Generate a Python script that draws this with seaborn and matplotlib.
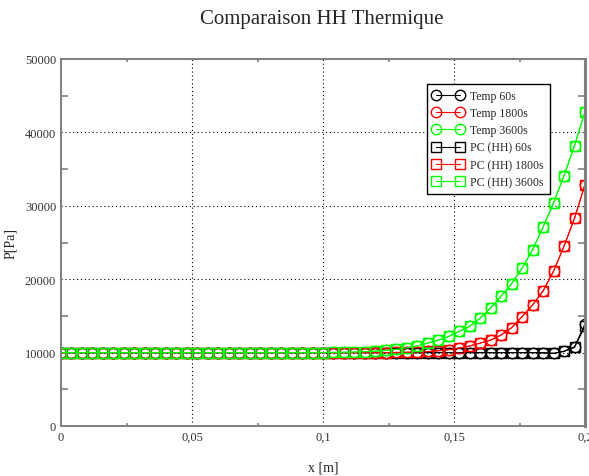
import numpy as np
import pandas as pd
import matplotlib
matplotlib.use("Agg")
import matplotlib.pyplot as plt
import seaborn as sns
from matplotlib.ticker import MultipleLocator, FixedLocator, FixedFormatter

# 51 points de x = 0 a 0.2 m (pas 0.004)
x = np.round(np.arange(51) * 0.004, 3)

# valeurs (la fin de chaque courbe, le reste vaut 10000)
tail_60 = [9950, 9900, 10200, 10800, 13900]                      # i = 46..50
tail_60_pc = [10000, 9900, 10150, 10700, 13600]
tail_1800 = [10010, 10020, 10040, 10080, 10150, 10250, 10400, 10600, 10900,
             11300, 11700, 12400, 13400, 14900, 16500, 18400, 21100, 24500,
             28300, 32900]                                          # i = 31..50
tail_3600 = [10010, 10020, 10040, 10070, 10120, 10200, 10300, 10450, 10650,
             10900, 11300, 11700, 12200, 12900, 13600, 14700, 16100, 17700,
             19400, 21500, 24000, 27100, 30400, 34100, 38200, 42800]  # i = 25..50

def full(tail):
    return [10000] * (51 - len(tail)) + list(tail)

temp_60 = full(tail_60)
temp_1800 = full(tail_1800)
temp_3600 = full(tail_3600)
pc_60 = full(tail_60_pc)
pc_1800 = full(tail_1800)
pc_3600 = full(tail_3600)

series = [
    ("Temp 60s", temp_60, "black", "o"),
    ("Temp 1800s", temp_1800, "red", "o"),
    ("Temp 3600s", temp_3600, "#00ff00", "o"),
    ("PC (HH) 60s", pc_60, "black", "s"),
    ("PC (HH) 1800s", pc_1800, "red", "s"),
    ("PC (HH) 3600s", pc_3600, "#00ff00", "s"),
]

sns.set_style("ticks")
plt.rcParams["font.family"] = ["Liberation Serif", "DejaVu Serif"]

fig = plt.figure(figsize=(5.89, 4.77), dpi=100)
ax = fig.add_axes([61 / 589, 1 - 427 / 477, 524 / 589, 367 / 477])

for label, vals, col, mk in series:
    df = pd.DataFrame({"x": x, "P": vals})
    sns.lineplot(data=df, x="x", y="P", ax=ax, color=col, marker=mk,
                 markersize=7.5, markerfacecolor="none", markeredgecolor=col,
                 markeredgewidth=1, linewidth=0.8, label=label)

ax.set_xlim(0, 0.2)
ax.set_ylim(0, 50000)
ax.xaxis.set_major_locator(FixedLocator([0, 0.05, 0.1, 0.15, 0.2]))
ax.xaxis.set_major_formatter(FixedFormatter(["0", "0,05", "0,1", "0,15", "0,2"]))
ax.xaxis.set_minor_locator(MultipleLocator(0.025))
ax.yaxis.set_major_locator(MultipleLocator(10000))
ax.yaxis.set_minor_locator(MultipleLocator(5000))

ax.grid(True, which="major", color="black", linestyle=(0, (1, 2.5)), linewidth=0.8)
ax.tick_params(which="both", direction="in", top=True, right=True,
               color="#808080", labelsize=9, labelcolor="#333333")
ax.tick_params(which="major", length=0)
ax.tick_params(which="minor", length=5, width=1.2)
ax.tick_params(axis="x", which="minor", length=2)
for s in ax.spines.values():
    s.set_color("#808080")
    s.set_linewidth(1.4)
ax.spines["right"].set_linewidth(2.2)

ax.set_xlabel("x [m]", fontsize=10, labelpad=13)
ax.set_ylabel("P[Pa]", fontsize=10, labelpad=6)
fig.suptitle("Comparaison HH Thermique", fontsize=15, x=0.547, y=0.978)

leg = ax.legend(loc="upper right", bbox_to_anchor=(0.933, 0.932), borderaxespad=0,
                numpoints=2, fontsize=8.5, fancybox=False, framealpha=1,
                edgecolor="black", handlelength=2.6, labelspacing=0.45,
                borderpad=0.5, handletextpad=0.6)
leg.get_frame().set_linewidth(1.0)

fig.savefig("out.png", dpi=100)
